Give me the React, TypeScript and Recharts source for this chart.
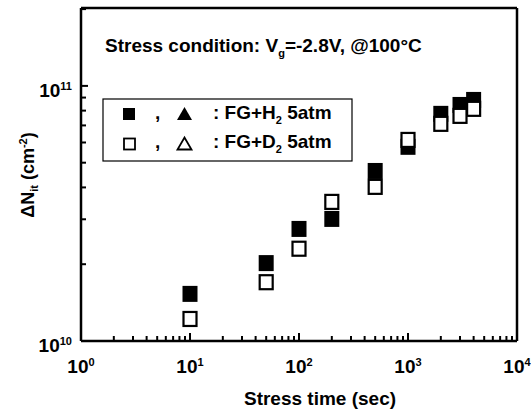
import React from 'react';
import { ScatterChart, Scatter, XAxis, YAxis, Customized, ReferenceLine } from 'recharts';

const stressTimes = [10, 50, 100, 200, 500, 1000, 2000, 3000, 4000];
const nitH2 = [1.53e10, 2.02e10, 2.75e10, 3.01e10, 4.64e10, 5.77e10, 7.77e10, 8.42e10, 8.81e10];
const nitD2 = [1.22e10, 1.7e10, 2.3e10, 3.51e10, 4.02e10, 6.14e10, 7.1e10, 7.63e10, 8.13e10];

const xTicks = [1, 2, 3, 4, 5, 6, 7, 8, 9, 10, 20, 30, 40, 50, 60, 70, 80, 90, 100, 200, 300, 400, 500, 600, 700, 800, 900, 1000, 2000, 3000, 4000, 5000, 6000, 7000, 8000, 9000, 10000];
const yTicks = [1e10, 2e10, 3e10, 4e10, 5e10, 6e10, 7e10, 8e10, 9e10, 1e11, 2e11];
const xDomain = [1, 10000];
const yDomain = [1e10, 2.02e11];

const h2Data = stressTimes.map((t, i) => ({ t, n: nitH2[i] }));
const d2Data = stressTimes.map((t, i) => ({ t, n: nitD2[i] }));

const FONT = '"Liberation Sans", Arial, Helvetica, sans-serif';

const isMajor = (v: number) => {
  const l = Math.log10(v);
  return Math.abs(l - Math.round(l)) < 1e-9;
};

const XTick = (props: any) => {
  const { x, y, payload } = props;
  const v = payload.value;
  const major = isMajor(v);
  const exp = Math.round(Math.log10(v));
  return (
    <g>
      <line x1={x} x2={x} y1={y} y2={y - (major ? 8 : 5)} style={{ stroke: '#000', strokeWidth: 2 }} />
      {major && (
        <text x={x} y={y + 32} textAnchor="middle" fontFamily={FONT} fontWeight="bold" fontSize={19} fill="#000" stroke="none">
          10<tspan dy={-7} fontSize={11}>{exp}</tspan>
        </text>
      )}
    </g>
  );
};

const YTick = (props: any) => {
  const { x, y, payload } = props;
  const v = payload.value;
  const major = isMajor(v);
  const exp = Math.round(Math.log10(v));
  return (
    <g>
      <line x1={x} x2={x + (major ? 7 : 5)} y1={y} y2={y} style={{ stroke: '#000', strokeWidth: 2 }} />
      {major && (
        <text x={x - 9} y={y + 11} textAnchor="end" fontFamily={FONT} fontWeight="bold" fontSize={19} fill="#000" stroke="none">
          10<tspan dy={-7} fontSize={11}>{exp}</tspan>
        </text>
      )}
    </g>
  );
};

const FilledSquare = (props: any) => {
  const { cx, cy } = props;
  return <rect x={cx - 7.5} y={cy - 8} width={15} height={16} fill="#000" />;
};

const OpenSquare = (props: any) => {
  const { cx, cy } = props;
  return <rect x={cx - 6.5} y={cy - 7} width={13} height={14} fill="#fff" stroke="#000" strokeWidth={2.2} />;
};

const Annotations = () => (
  <g fontFamily={FONT} fontWeight="bold" fill="#000">
    <text x={105} y={52} fontSize={19}>
      Stress condition: V<tspan dy={5} fontSize={11}>g</tspan><tspan dy={-5}>=-2.8V, @100°C</tspan>
    </text>
    <rect x={103} y={99} width={249} height={62} fill="#fff" stroke="#000" strokeWidth={1.2} />
    <rect x={123} y={108} width={12} height={12} fill="#000" />
    <text x={155} y={119} fontSize={19}>,</text>
    <polygon points="177,120 192,120 184.5,107" fill="#000" />
    <text x={213} y={119} fontSize={19}>
      : FG+H<tspan dy={5} fontSize={11}>2</tspan><tspan dy={-5}> 5atm</tspan>
    </text>
    <rect x={124} y={138.5} width={11} height={11} fill="#fff" stroke="#000" strokeWidth={1.8} />
    <text x={155} y={148} fontSize={19}>,</text>
    <polygon points="177.5,149.5 191.5,149.5 184.5,137.5" fill="#fff" stroke="#000" strokeWidth={1.8} />
    <text x={213} y={148} fontSize={19}>
      : FG+D<tspan dy={5} fontSize={11}>2</tspan><tspan dy={-5}> 5atm</tspan>
    </text>
    <text x={320} y={405} fontSize={19} textAnchor="middle">Stress time (sec)</text>
    <text transform="translate(34,175) rotate(-90)" fontSize={18} textAnchor="middle">
      ΔN<tspan dy={4} fontSize={11}>it</tspan><tspan dy={-4}> (cm</tspan><tspan dy={-7} fontSize={11}>-2</tspan><tspan dy={7}>)</tspan>
    </text>
  </g>
);

const axisLineStyle = { stroke: '#000', strokeWidth: 2.5 };

export default function App() {
  return (
    <div style={{ position: 'absolute', left: 0, top: 0, width: 531, height: 416, background: '#fff' }}>
      <ScatterChart width={531} height={416} margin={{ top: 8, right: 14, bottom: 0, left: 0 }}>
        <XAxis
          dataKey="t"
          type="number"
          scale="log"
          domain={xDomain}
          ticks={xTicks}
          interval={0}
          allowDataOverflow
          height={75}
          tickSize={0}
          tickMargin={0}
          tickLine={false}
          axisLine={axisLineStyle}
          tick={<XTick />}
        />
        <YAxis
          dataKey="n"
          type="number"
          scale="log"
          domain={yDomain}
          ticks={yTicks}
          interval={0}
          allowDataOverflow
          width={81}
          tickSize={0}
          tickMargin={0}
          tickLine={false}
          axisLine={axisLineStyle}
          tick={<YTick />}
        />
        <ReferenceLine y={yDomain[1]} stroke="#000" strokeWidth={2.5} ifOverflow="visible" />
        <ReferenceLine x={xDomain[1]} stroke="#000" strokeWidth={2.5} ifOverflow="visible" />
        <Customized component={<Annotations />} />
        <Scatter data={h2Data} shape={<FilledSquare />} isAnimationActive={false} />
        <Scatter data={d2Data} shape={<OpenSquare />} isAnimationActive={false} />
      </ScatterChart>
    </div>
  );
}
